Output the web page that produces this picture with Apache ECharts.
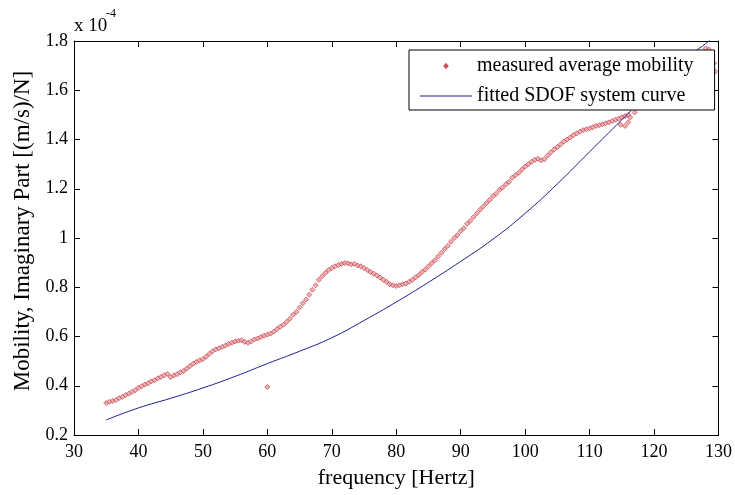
<!DOCTYPE html>
<html>
<head>
<meta charset="utf-8">
<script src="https://cdn.jsdelivr.net/npm/echarts@6/dist/echarts.min.js"></script>
<style>
html,body{margin:0;padding:0;background:#fff;}
#c{width:735px;height:495px;}
</style>
</head>
<body>
<div id="c"></div>
<script>
// frequency [Hz] / imaginary mobility [x1e-4 (m/s)/N]
const measuredFreq = [
35.0,35.5,36.0,36.5,37.0,37.5,38.0,38.5,39.0,39.5,
40.0,40.5,41.0,41.5,42.0,42.5,43.0,43.5,44.0,44.5,
45.0,45.5,46.0,46.5,47.0,47.5,48.0,48.5,49.0,49.5,
50.0,50.5,51.0,51.5,52.0,52.5,53.0,53.5,54.0,54.5,
55.0,55.5,56.0,56.5,57.0,57.5,58.0,58.5,59.0,59.5,
60.0,60.5,61.0,61.5,62.0,62.5,63.0,63.5,64.0,64.5,
65.0,65.5,66.0,66.5,67.0,67.5,68.0,68.5,69.0,69.5,
70.0,70.5,71.0,71.5,72.0,72.5,73.0,73.5,74.0,74.5,
75.0,75.5,76.0,76.5,77.0,77.5,78.0,78.5,79.0,79.5,
80.0,80.5,81.0,81.5,82.0,82.5,83.0,83.5,84.0,84.5,
85.0,85.5,86.0,86.5,87.0,87.5,88.0,88.5,89.0,89.5,
90.0,90.5,91.0,91.5,92.0,92.5,93.0,93.5,94.0,94.5,
95.0,95.5,96.0,96.5,97.0,97.5,98.0,98.5,99.0,99.5,
100.0,100.5,101.0,101.5,102.0,102.5,103.0,103.5,104.0,104.5,
105.0,105.5,106.0,106.5,107.0,107.5,108.0,108.5,109.0,109.5,
110.0,110.5,111.0,111.5,112.0,112.5,113.0,113.5,114.0,114.5,
115.0,115.5,116.0,
60.0,114.8,115.5,116.0,116.3,
117.0,118.0,119.0,120.0,121.0,122.0,123.0,124.0,125.0,126.0,127.0,
128.0,128.5,128.8,129.0,129.3,129.5
];
const measuredValue = [
0.330,0.335,0.338,0.342,0.350,0.355,0.362,0.368,0.375,0.382,
0.392,0.398,0.405,0.410,0.418,0.422,0.430,0.436,0.443,0.448,
0.435,0.442,0.447,0.455,0.460,0.470,0.480,0.490,0.497,0.503,
0.508,0.518,0.530,0.540,0.548,0.552,0.558,0.563,0.570,0.575,
0.580,0.583,0.585,0.578,0.575,0.580,0.588,0.592,0.598,0.603,
0.608,0.612,0.620,0.630,0.640,0.648,0.660,0.672,0.688,0.700,
0.718,0.735,0.750,0.770,0.790,0.808,0.830,0.845,0.858,0.870,
0.878,0.885,0.890,0.895,0.898,0.897,0.893,0.895,0.888,0.885,
0.878,0.870,0.862,0.855,0.848,0.840,0.830,0.822,0.812,0.808,
0.805,0.808,0.812,0.815,0.822,0.830,0.840,0.850,0.862,0.872,
0.885,0.898,0.910,0.925,0.940,0.955,0.968,0.985,1.000,1.012,
1.028,1.040,1.058,1.070,1.085,1.100,1.115,1.128,1.142,1.155,
1.170,1.180,1.195,1.205,1.218,1.228,1.245,1.255,1.265,1.278,
1.290,1.300,1.310,1.318,1.322,1.315,1.320,1.335,1.348,1.360,
1.370,1.380,1.392,1.400,1.408,1.418,1.425,1.432,1.438,1.442,
1.445,1.450,1.455,1.458,1.462,1.466,1.470,1.475,1.480,1.485,
1.490,1.495,1.500,
0.395,1.460,1.455,1.470,1.490,
1.510,1.530,1.550,1.570,1.600,1.620,1.650,1.670,1.700,1.720,1.740,
1.770,1.765,1.745,1.716,1.710,1.676
];
const fittedFreq  = [35, 40, 45, 50, 55, 60, 65, 70, 75, 80, 85, 90, 95, 100, 105, 110, 115, 120, 125, 128.5, 130];
const fittedValue = [0.261,0.310,0.349,0.391,0.438,0.490,0.540,0.595,0.665,0.740,0.820,0.905,0.995,1.100,1.220,1.350,1.480,1.610,1.730,1.800,1.840];
const xTicks = [30, 40, 50, 60, 70, 80, 90, 100, 110, 120, 130];
const yTicks = [0.2, 0.4, 0.6, 0.8, 1.0, 1.2, 1.4, 1.6, 1.8];

const measuredData = measuredFreq.map((f, i) => [f, measuredValue[i]]);
const fittedData = fittedFreq.map((f, i) => [f, fittedValue[i]]);

const FONT = '"Liberation Serif", "Times New Roman", serif';
const chart = echarts.init(document.getElementById('c'), null, {renderer: 'canvas'});

const axisCommon = {
  type: 'value',
  axisLine: {show: true, lineStyle: {color: '#000', width: 1}},
  axisTick: {show: true, inside: true, length: 6, lineStyle: {color: '#000'}},
  splitLine: {show: false}
};

chart.setOption({
  backgroundColor: '#fff',
  animation: false,
  grid: {left: 74, right: 15, top: 41, bottom: 60, containLabel: false},
  xAxis: [
    Object.assign({}, axisCommon, {
      min: xTicks[0], max: xTicks[xTicks.length - 1], interval: 10,
      position: 'bottom',
      name: 'frequency [Hertz]', nameLocation: 'middle', nameGap: 32,
      nameTextStyle: {fontFamily: FONT, fontSize: 22, color: '#000'},
      axisLabel: {fontFamily: FONT, fontSize: 18, color: '#000', margin: 8}
    }),
    Object.assign({}, axisCommon, {
      min: xTicks[0], max: xTicks[xTicks.length - 1], interval: 10,
      position: 'top', axisLabel: {show: false}
    })
  ],
  yAxis: [
    Object.assign({}, axisCommon, {
      min: yTicks[0], max: yTicks[yTicks.length - 1], interval: 0.2,
      position: 'left',
      name: 'Mobility, Imaginary Part [(m/s)/N]', nameLocation: 'middle', nameGap: 37,
      nameTextStyle: {fontFamily: FONT, fontSize: 23, color: '#000', padding: [0, 0, 0, 14]},
      axisLabel: {fontFamily: FONT, fontSize: 18, color: '#000', margin: 6,
        formatter: v => String(parseFloat(v.toFixed(1)))}
    }),
    Object.assign({}, axisCommon, {
      min: yTicks[0], max: yTicks[yTicks.length - 1], interval: 0.2,
      position: 'right', axisLabel: {show: false}
    })
  ],
  legend: {
    orient: 'vertical',
    left: 409, top: 50,
    z: 100,
    padding: [6, 21, 4, 10],
    itemGap: 10,
    itemWidth: 52, itemHeight: 5,
    symbolKeepAspect: true,
    backgroundColor: '#fff',
    borderColor: '#000', borderWidth: 1,
    textStyle: {fontFamily: FONT, fontSize: 20, color: '#000'},
    data: [
      {name: 'measured average mobility', icon: 'path://M0,0M52,5M24.5,2.5L26,0.8L27.5,2.5L26,4.2Z'},
      {name: 'fitted SDOF system curve', icon: 'path://M0,0L52,0L52,1L0,1Z'}
    ]
  },
  graphic: [
    {type: 'text', left: 74, top: 17, style: {text: 'x 10', fontFamily: FONT, fontSize: 19, fill: '#000'}},
    {type: 'text', left: 106, top: 8, style: {text: '-4', fontFamily: FONT, fontSize: 12, fill: '#000'}}
  ],
  series: [
    {
      name: 'measured average mobility',
      type: 'scatter',
      xAxisIndex: 0, yAxisIndex: 0,
      symbol: 'diamond', symbolSize: 5,
      itemStyle: {color: '#e7a3a6', borderColor: '#c42b34', borderWidth: 0.8},
      data: measuredData,
      z: 2
    },
    {
      name: 'fitted SDOF system curve',
      type: 'line',
      xAxisIndex: 0, yAxisIndex: 0,
      smooth: true, showSymbol: false, symbol: 'none',
      lineStyle: {color: '#1f1f96', width: 1},
      itemStyle: {color: '#1f1f96'},
      data: fittedData,
      clip: true,
      z: 3
    }
  ]
});
</script>
</body>
</html>
